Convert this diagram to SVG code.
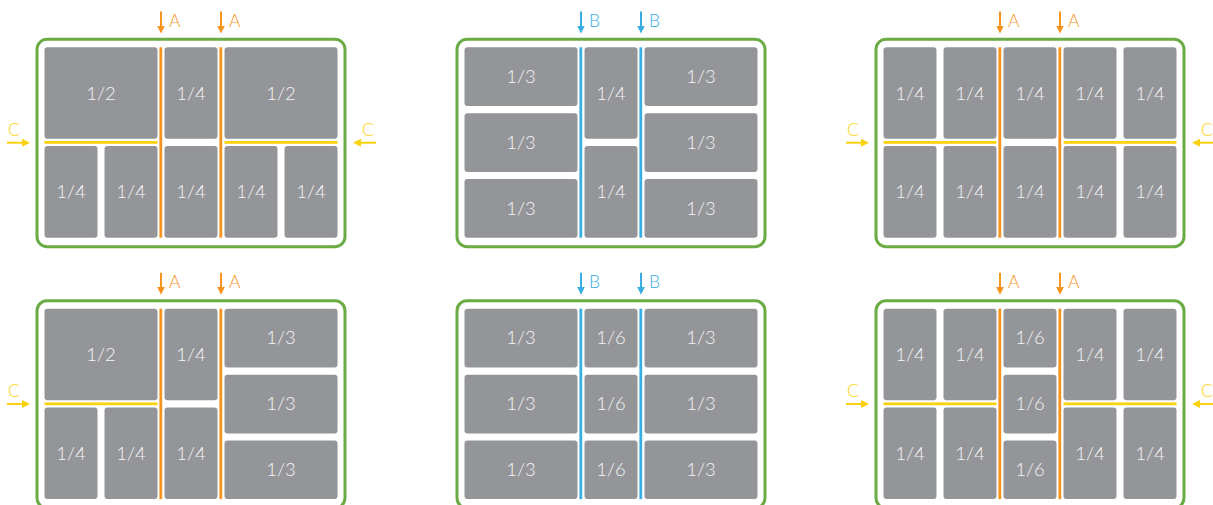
<svg xmlns="http://www.w3.org/2000/svg" width="1213" height="505" viewBox="0 0 1213 505">
<style>
.bg{fill:#ffffff}
.frame{fill:none;stroke:#6aab44;stroke-width:3}
.cell{fill:#939598}
.lbl{font-family:Lato,"Open Sans","Liberation Sans",sans-serif;font-weight:300;font-size:18.5px;fill:#f4f4f5;text-anchor:middle}
.dA{fill:#f7941e}
.dB{fill:#3aaee2}
.dC{fill:#fcd20e}
.aA{stroke:#f7941e;stroke-width:2;fill:none}
.aB{stroke:#3aaee2;stroke-width:2;fill:none}
.aC{stroke:#fcd20e;stroke-width:2;fill:none}
.tA{font-family:Lato,"Open Sans","Liberation Sans",sans-serif;font-weight:300;font-size:17.5px;fill:#f7941e}
.tB{font-family:Lato,"Open Sans","Liberation Sans",sans-serif;font-weight:300;font-size:17.5px;fill:#3aaee2}
.tC{font-family:Lato,"Open Sans","Liberation Sans",sans-serif;font-weight:300;font-size:17.5px;fill:#fcd20e;text-anchor:middle}
</style>
<defs>
<marker id="mA" markerUnits="userSpaceOnUse" markerWidth="8" markerHeight="8" refX="3" refY="4" orient="auto"><path d="M0,0 L8,4 L0,8 z" fill="#f7941e"/></marker>
<marker id="mB" markerUnits="userSpaceOnUse" markerWidth="8" markerHeight="8" refX="3" refY="4" orient="auto"><path d="M0,0 L8,4 L0,8 z" fill="#3aaee2"/></marker>
<marker id="mC" markerUnits="userSpaceOnUse" markerWidth="8" markerHeight="8" refX="3" refY="4" orient="auto"><path d="M0,0 L8,4 L0,8 z" fill="#fcd20e"/></marker>
</defs>
<rect class="bg" x="0" y="0" width="1213" height="505"/>

<!-- Panel 1 -->
<g id="panel1" transform="translate(37,39.3)">
<rect class="frame" x="0" y="0" width="308" height="207.4" rx="10"/>
<rect class="cell" x="7.5" y="8" width="113" height="91.5" rx="3"/><text class="lbl" x="64" y="60.3">1/2</text>
<rect class="cell" x="127.5" y="8" width="53" height="91.5" rx="3"/><text class="lbl" x="154" y="60.3">1/4</text>
<rect class="cell" x="187.5" y="8" width="113" height="91.5" rx="3"/><text class="lbl" x="244" y="60.3">1/2</text>
<rect class="cell" x="7.5" y="106.8" width="53" height="91.6" rx="3"/><text class="lbl" x="34" y="158.9">1/4</text>
<rect class="cell" x="67.5" y="106.8" width="53" height="91.6" rx="3"/><text class="lbl" x="94" y="158.9">1/4</text>
<rect class="cell" x="127.5" y="106.8" width="53" height="91.6" rx="3"/><text class="lbl" x="154" y="158.9">1/4</text>
<rect class="cell" x="187.5" y="106.8" width="53" height="91.6" rx="3"/><text class="lbl" x="214" y="158.9">1/4</text>
<rect class="cell" x="247.5" y="106.8" width="53" height="91.6" rx="3"/><text class="lbl" x="274" y="158.9">1/4</text>
<rect class="dA" x="122.4" y="8" width="2.8" height="190.4"/>
<rect class="dA" x="182.4" y="8" width="2.8" height="190.4"/>
<rect class="dC" x="7.5" y="101.7" width="113" height="2.8"/>
<rect class="dC" x="187.5" y="101.7" width="113" height="2.8"/>
</g>

<!-- Panel 2 -->
<g id="panel2" transform="translate(457,39.3)">
<rect class="frame" x="0" y="0" width="308" height="207.4" rx="10"/>
<rect class="cell" x="7.5" y="8" width="113" height="58.7" rx="3"/><text class="lbl" x="64" y="43.7">1/3</text>
<rect class="cell" x="7.5" y="74" width="113" height="58.7" rx="3"/><text class="lbl" x="64" y="109.7">1/3</text>
<rect class="cell" x="7.5" y="139.7" width="113" height="58.7" rx="3"/><text class="lbl" x="64" y="175.4">1/3</text>
<rect class="cell" x="127.5" y="8" width="53" height="91.5" rx="3"/><text class="lbl" x="154" y="60.3">1/4</text>
<rect class="cell" x="127.5" y="106.8" width="53" height="91.6" rx="3"/><text class="lbl" x="154" y="158.9">1/4</text>
<rect class="cell" x="187.5" y="8" width="113" height="58.7" rx="3"/><text class="lbl" x="244" y="43.7">1/3</text>
<rect class="cell" x="187.5" y="74" width="113" height="58.7" rx="3"/><text class="lbl" x="244" y="109.7">1/3</text>
<rect class="cell" x="187.5" y="139.7" width="113" height="58.7" rx="3"/><text class="lbl" x="244" y="175.4">1/3</text>
<rect class="dB" x="122.4" y="8" width="2.8" height="190.4"/>
<rect class="dB" x="182.4" y="8" width="2.8" height="190.4"/>
</g>

<!-- Panel 3 -->
<g id="panel3" transform="translate(876,39.3)">
<rect class="frame" x="0" y="0" width="308" height="207.4" rx="10"/>
<rect class="cell" x="7.5" y="8" width="53" height="91.5" rx="3"/><text class="lbl" x="34" y="60.3">1/4</text>
<rect class="cell" x="67.5" y="8" width="53" height="91.5" rx="3"/><text class="lbl" x="94" y="60.3">1/4</text>
<rect class="cell" x="127.5" y="8" width="53" height="91.5" rx="3"/><text class="lbl" x="154" y="60.3">1/4</text>
<rect class="cell" x="187.5" y="8" width="53" height="91.5" rx="3"/><text class="lbl" x="214" y="60.3">1/4</text>
<rect class="cell" x="247.5" y="8" width="53" height="91.5" rx="3"/><text class="lbl" x="274" y="60.3">1/4</text>
<rect class="cell" x="7.5" y="106.8" width="53" height="91.6" rx="3"/><text class="lbl" x="34" y="158.9">1/4</text>
<rect class="cell" x="67.5" y="106.8" width="53" height="91.6" rx="3"/><text class="lbl" x="94" y="158.9">1/4</text>
<rect class="cell" x="127.5" y="106.8" width="53" height="91.6" rx="3"/><text class="lbl" x="154" y="158.9">1/4</text>
<rect class="cell" x="187.5" y="106.8" width="53" height="91.6" rx="3"/><text class="lbl" x="214" y="158.9">1/4</text>
<rect class="cell" x="247.5" y="106.8" width="53" height="91.6" rx="3"/><text class="lbl" x="274" y="158.9">1/4</text>
<rect class="dA" x="122.4" y="8" width="2.8" height="190.4"/>
<rect class="dA" x="182.4" y="8" width="2.8" height="190.4"/>
<rect class="dC" x="7.5" y="101.7" width="113" height="2.8"/>
<rect class="dC" x="187.5" y="101.7" width="113" height="2.8"/>
</g>

<!-- Panel 4 -->
<g id="panel4" transform="translate(37,300.7)">
<rect class="frame" x="0" y="0" width="308" height="207.4" rx="10"/>
<rect class="cell" x="7.5" y="8" width="113" height="91.5" rx="3"/><text class="lbl" x="64" y="60.3">1/2</text>
<rect class="cell" x="7.5" y="106.8" width="53" height="91.6" rx="3"/><text class="lbl" x="34" y="158.9">1/4</text>
<rect class="cell" x="67.5" y="106.8" width="53" height="91.6" rx="3"/><text class="lbl" x="94" y="158.9">1/4</text>
<rect class="cell" x="127.5" y="8" width="53" height="91.5" rx="3"/><text class="lbl" x="154" y="60.3">1/4</text>
<rect class="cell" x="127.5" y="106.8" width="53" height="91.6" rx="3"/><text class="lbl" x="154" y="158.9">1/4</text>
<rect class="cell" x="187.5" y="8" width="113" height="58.7" rx="3"/><text class="lbl" x="244" y="43.7">1/3</text>
<rect class="cell" x="187.5" y="74" width="113" height="58.7" rx="3"/><text class="lbl" x="244" y="109.7">1/3</text>
<rect class="cell" x="187.5" y="139.7" width="113" height="58.7" rx="3"/><text class="lbl" x="244" y="175.4">1/3</text>
<rect class="dA" x="122.4" y="8" width="2.8" height="190.4"/>
<rect class="dA" x="182.4" y="8" width="2.8" height="190.4"/>
<rect class="dC" x="7.5" y="101.7" width="113" height="2.8"/>
</g>

<!-- Panel 5 -->
<g id="panel5" transform="translate(457,300.7)">
<rect class="frame" x="0" y="0" width="308" height="207.4" rx="10"/>
<rect class="cell" x="7.5" y="8" width="113" height="58.7" rx="3"/><text class="lbl" x="64" y="43.7">1/3</text>
<rect class="cell" x="7.5" y="74" width="113" height="58.7" rx="3"/><text class="lbl" x="64" y="109.7">1/3</text>
<rect class="cell" x="7.5" y="139.7" width="113" height="58.7" rx="3"/><text class="lbl" x="64" y="175.4">1/3</text>
<rect class="cell" x="127.5" y="8" width="53" height="58.7" rx="3"/><text class="lbl" x="154" y="43.7">1/6</text>
<rect class="cell" x="127.5" y="74" width="53" height="58.7" rx="3"/><text class="lbl" x="154" y="109.7">1/6</text>
<rect class="cell" x="127.5" y="139.7" width="53" height="58.7" rx="3"/><text class="lbl" x="154" y="175.4">1/6</text>
<rect class="cell" x="187.5" y="8" width="113" height="58.7" rx="3"/><text class="lbl" x="244" y="43.7">1/3</text>
<rect class="cell" x="187.5" y="74" width="113" height="58.7" rx="3"/><text class="lbl" x="244" y="109.7">1/3</text>
<rect class="cell" x="187.5" y="139.7" width="113" height="58.7" rx="3"/><text class="lbl" x="244" y="175.4">1/3</text>
<rect class="dB" x="122.4" y="8" width="2.8" height="190.4"/>
<rect class="dB" x="182.4" y="8" width="2.8" height="190.4"/>
</g>

<!-- Panel 6 -->
<g id="panel6" transform="translate(876,300.7)">
<rect class="frame" x="0" y="0" width="308" height="207.4" rx="10"/>
<rect class="cell" x="7.5" y="8" width="53" height="91.5" rx="3"/><text class="lbl" x="34" y="60.3">1/4</text>
<rect class="cell" x="67.5" y="8" width="53" height="91.5" rx="3"/><text class="lbl" x="94" y="60.3">1/4</text>
<rect class="cell" x="7.5" y="106.8" width="53" height="91.6" rx="3"/><text class="lbl" x="34" y="158.9">1/4</text>
<rect class="cell" x="67.5" y="106.8" width="53" height="91.6" rx="3"/><text class="lbl" x="94" y="158.9">1/4</text>
<rect class="cell" x="127.5" y="8" width="53" height="58.7" rx="3"/><text class="lbl" x="154" y="43.7">1/6</text>
<rect class="cell" x="127.5" y="74" width="53" height="58.7" rx="3"/><text class="lbl" x="154" y="109.7">1/6</text>
<rect class="cell" x="127.5" y="139.7" width="53" height="58.7" rx="3"/><text class="lbl" x="154" y="175.4">1/6</text>
<rect class="cell" x="187.5" y="8" width="53" height="91.5" rx="3"/><text class="lbl" x="214" y="60.3">1/4</text>
<rect class="cell" x="247.5" y="8" width="53" height="91.5" rx="3"/><text class="lbl" x="274" y="60.3">1/4</text>
<rect class="cell" x="187.5" y="106.8" width="53" height="91.6" rx="3"/><text class="lbl" x="214" y="158.9">1/4</text>
<rect class="cell" x="247.5" y="106.8" width="53" height="91.6" rx="3"/><text class="lbl" x="274" y="158.9">1/4</text>
<rect class="dA" x="122.4" y="8" width="2.8" height="190.4"/>
<rect class="dA" x="182.4" y="8" width="2.8" height="190.4"/>
<rect class="dC" x="7.5" y="101.7" width="113" height="2.8"/>
<rect class="dC" x="187.5" y="101.7" width="113" height="2.8"/>
</g>

<!-- Connectors (arrows and labels) -->
<g id="connectors">
<!-- top row -->
<line class="aA" x1="161" y1="11.5" x2="161" y2="28.5" marker-end="url(#mA)"/><text class="tA" x="169" y="26.7">A</text>
<line class="aA" x1="221" y1="11.5" x2="221" y2="28.5" marker-end="url(#mA)"/><text class="tA" x="229" y="26.7">A</text>
<line class="aC" x1="7" y1="142.7" x2="25" y2="142.7" marker-end="url(#mC)"/><text class="tC" x="14" y="136">C</text>
<line class="aC" x1="376" y1="142.7" x2="358" y2="142.7" marker-end="url(#mC)"/><text class="tC" x="368" y="136">C</text>

<line class="aB" x1="581" y1="11.5" x2="581" y2="28.5" marker-end="url(#mB)"/><text class="tB" x="589" y="26.7">B</text>
<line class="aB" x1="641" y1="11.5" x2="641" y2="28.5" marker-end="url(#mB)"/><text class="tB" x="649" y="26.7">B</text>

<line class="aA" x1="1000" y1="11.5" x2="1000" y2="28.5" marker-end="url(#mA)"/><text class="tA" x="1008" y="26.7">A</text>
<line class="aA" x1="1060" y1="11.5" x2="1060" y2="28.5" marker-end="url(#mA)"/><text class="tA" x="1068" y="26.7">A</text>
<line class="aC" x1="846" y1="142.7" x2="864" y2="142.7" marker-end="url(#mC)"/><text class="tC" x="853" y="136">C</text>
<line class="aC" x1="1215" y1="142.7" x2="1197" y2="142.7" marker-end="url(#mC)"/><text class="tC" x="1207" y="136">C</text>

<!-- bottom row -->
<line class="aA" x1="161" y1="272.8" x2="161" y2="289.8" marker-end="url(#mA)"/><text class="tA" x="169" y="288">A</text>
<line class="aA" x1="221" y1="272.8" x2="221" y2="289.8" marker-end="url(#mA)"/><text class="tA" x="229" y="288">A</text>
<line class="aC" x1="7" y1="404" x2="25" y2="404" marker-end="url(#mC)"/><text class="tC" x="14" y="397.3">C</text>

<line class="aB" x1="581" y1="272.8" x2="581" y2="289.8" marker-end="url(#mB)"/><text class="tB" x="589" y="288">B</text>
<line class="aB" x1="641" y1="272.8" x2="641" y2="289.8" marker-end="url(#mB)"/><text class="tB" x="649" y="288">B</text>

<line class="aA" x1="1000" y1="272.8" x2="1000" y2="289.8" marker-end="url(#mA)"/><text class="tA" x="1008" y="288">A</text>
<line class="aA" x1="1060" y1="272.8" x2="1060" y2="289.8" marker-end="url(#mA)"/><text class="tA" x="1068" y="288">A</text>
<line class="aC" x1="846" y1="404" x2="864" y2="404" marker-end="url(#mC)"/><text class="tC" x="853" y="397.3">C</text>
<line class="aC" x1="1215" y1="404" x2="1197" y2="404" marker-end="url(#mC)"/><text class="tC" x="1207" y="397.3">C</text>
</g>
</svg>
